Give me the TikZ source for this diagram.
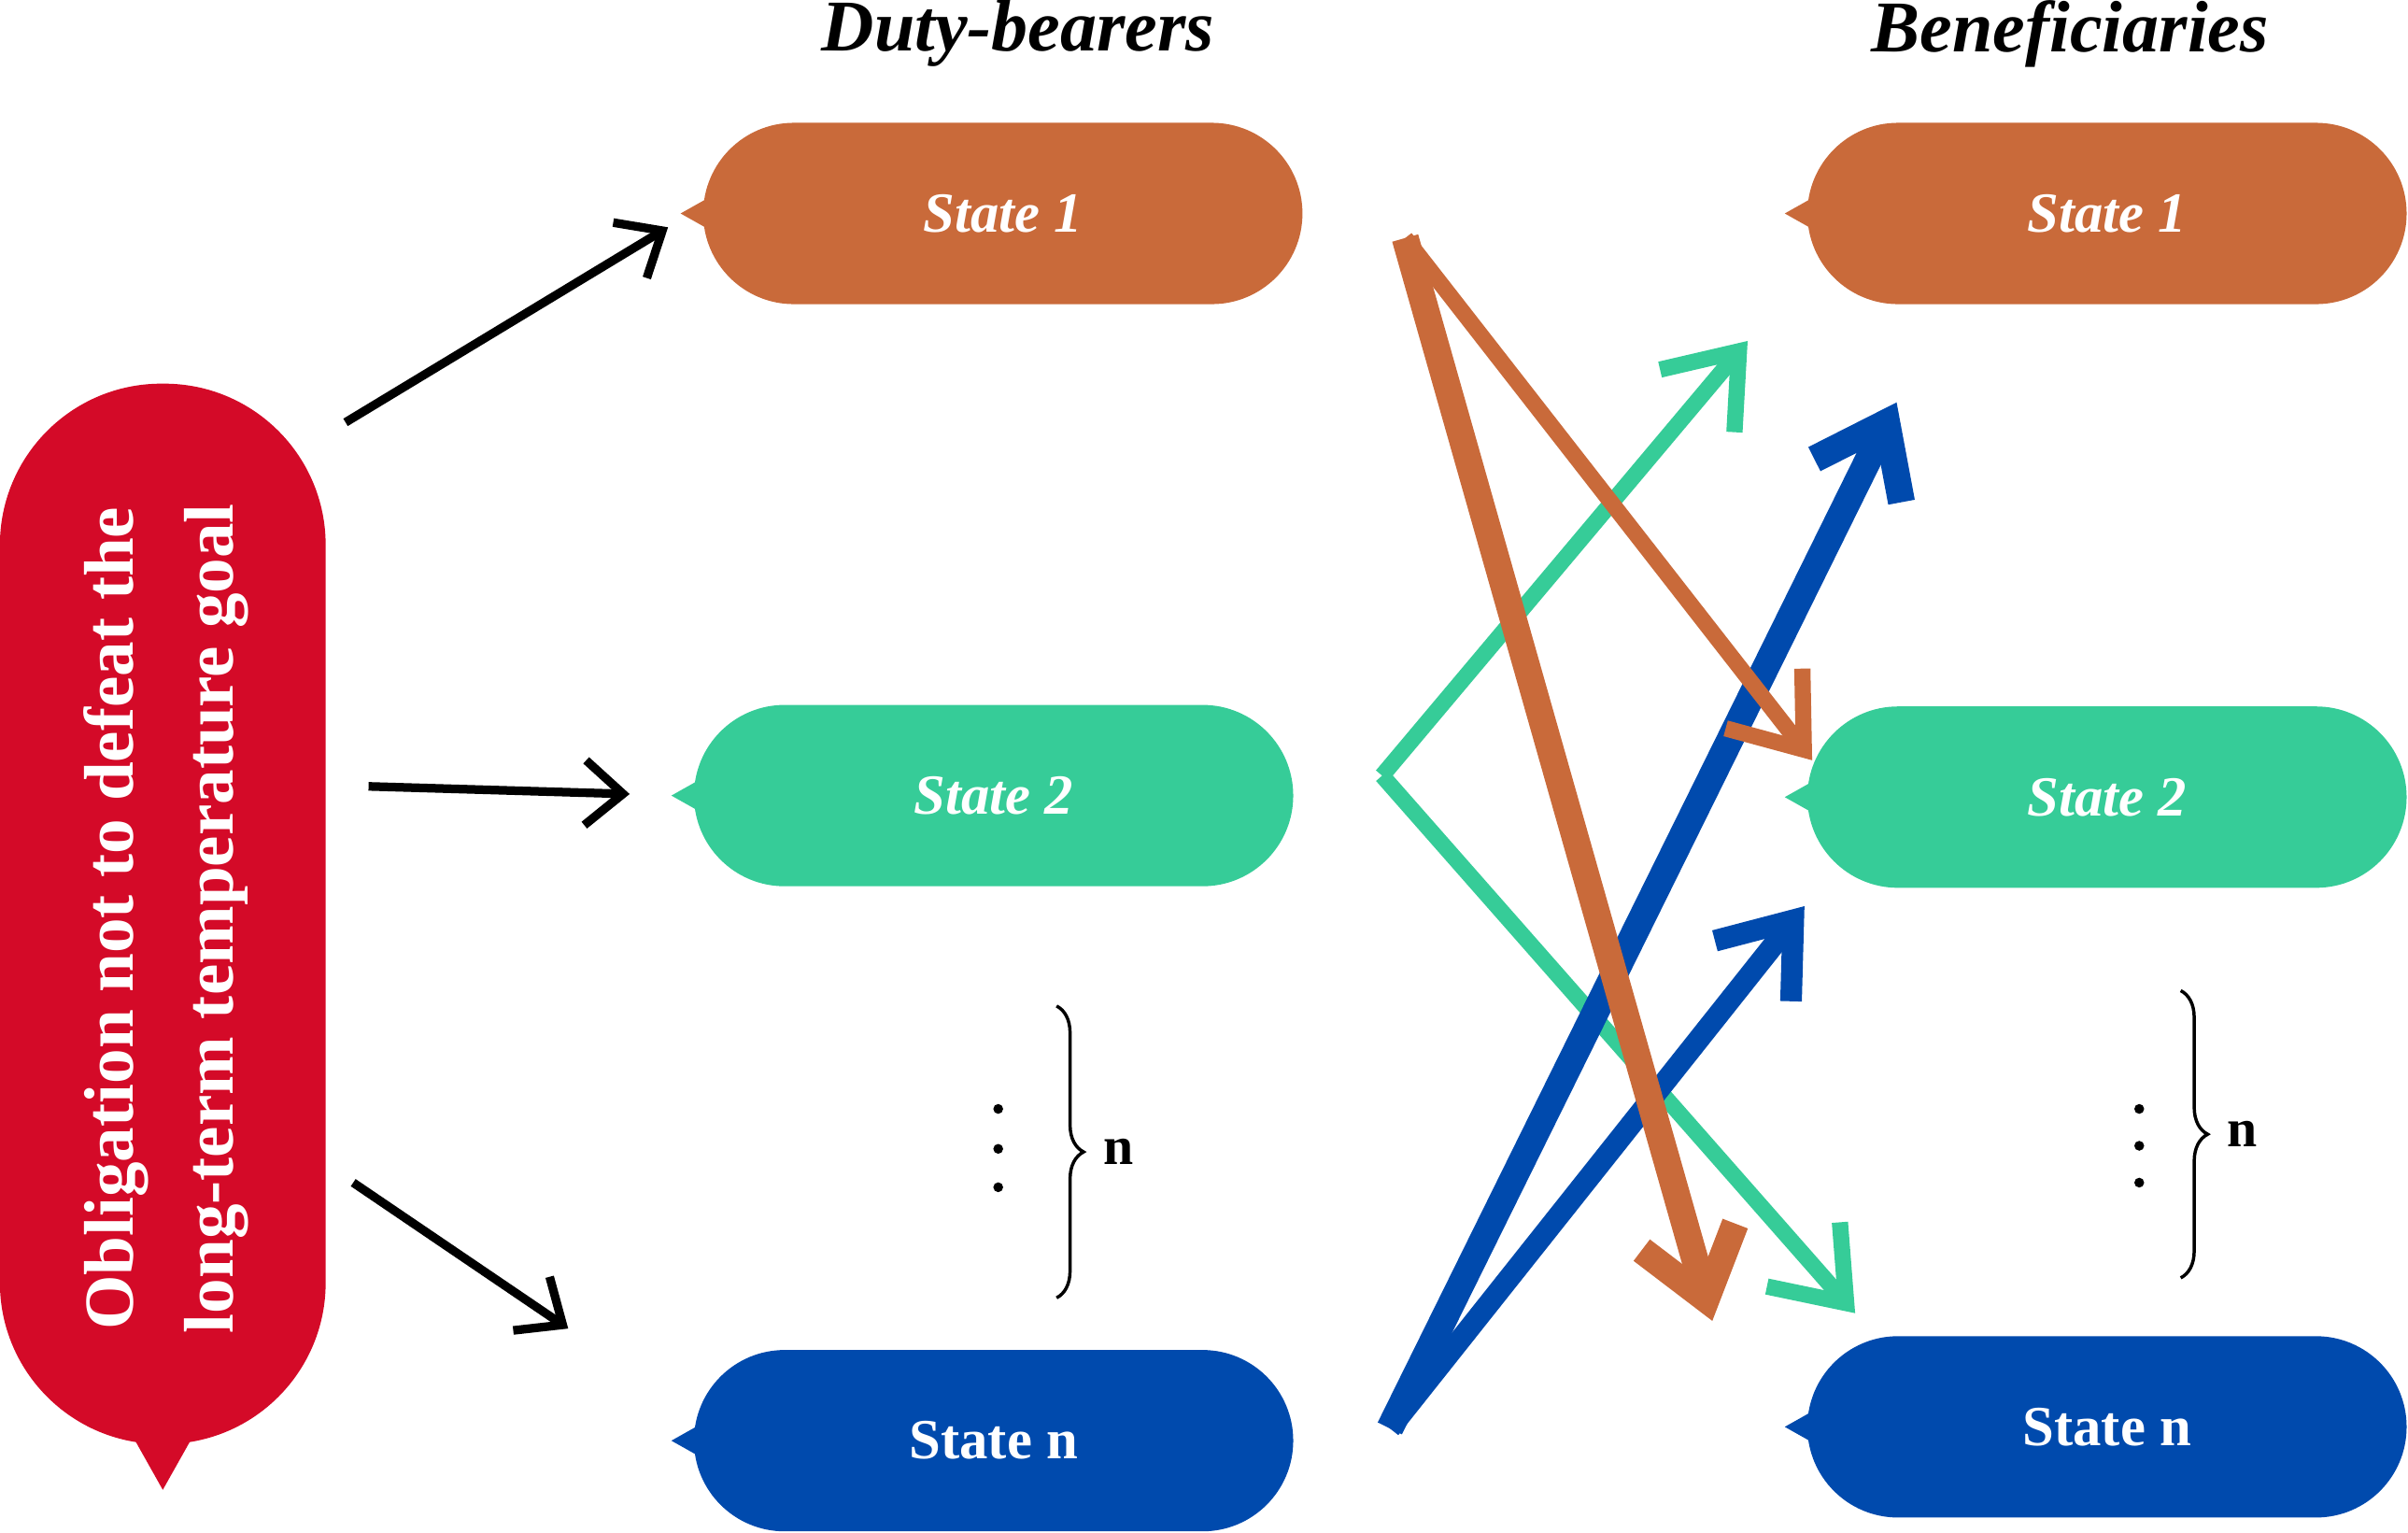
\documentclass[tikz,border=0pt]{standalone}
\usepackage{fontspec}
\setmainfont{Liberation Serif}
\usetikzlibrary{shapes.geometric,decorations.pathreplacing,arrows.meta}
\definecolor{rust}{HTML}{C96A3A}
\definecolor{mint}{HTML}{36CC98}
\definecolor{navy}{HTML}{004AAD}
\definecolor{crimson}{HTML}{D40A28}
\tikzset{
	state/.style={rounded corners=0.59cm, minimum width=3.9cm, minimum height=1.18cm, text=white, font=\bfseries\itshape\fontsize{10.5}{12}\selectfont, inner sep=0pt},
	title/.style={font=\itshape\bfseries\fontsize{13.5}{15}\selectfont},
	blackarr/.style={->, line width=1.6pt, black, >={Straight Barb[length=7pt,width=12pt]}},
	colarr/.style={->, line width=3pt, >={Straight Barb[length=12pt,width=18pt]}},
}
\begin{document}
\begin{tikzpicture}[x=0.01cm,y=-0.01cm]
	\useasboundingbox (0,0) rectangle (1568,998);
	% obligation
	\node[fill=crimson, rounded corners=1.05cm, minimum width=2.12cm, minimum height=6.9cm, inner sep=0pt] (obl) at (106,595) {};
	\fill[crimson] (88,938) -- (106,970) -- (124,938) -- cycle;
	\node[rotate=90, text=white, align=center, font=\bfseries\fontsize{13}{18.5}\selectfont] at (108,598) {Obligation not to defeat the\\long-term temperature goal};
	% titles
	\node[title] (dt) at (663,22) {Duty-bearers};
	\node[title] (bt) at (1348,22) {Beneficiaries};
	% duty-bearers
	\node[state, fill=rust] (d1) at (653,139) {State 1};
	\node[state, fill=mint] (d2) at (647,518) {State 2};
	\node[state, fill=navy, font=\bfseries\fontsize{10.5}{12}\selectfont] (dn) at (647,938) {State n};
	% beneficiaries
	\node[state, fill=rust] (b1) at (1372,139) {State 1};
	\node[state, fill=mint] (b2) at (1372,519) {State 2};
	\node[state, fill=navy, font=\bfseries\fontsize{10.5}{12}\selectfont] (bn) at (1372,929) {State n};
	\foreach \n/\c in {d1/rust,d2/mint,dn/navy,b1/rust,b2/mint,bn/navy}
		\fill[\c] (\n.west) ++(2,-9) -- ++(-16,9) -- ++(16,9) -- cycle;
	% black arrows
	\coordinate (o1) at (225,275);
	\coordinate (o2) at (240,512);
	\coordinate (o3) at (230,770);
	\coordinate (t1) at (435,148);
	\coordinate (t2) at (410,517);
	\coordinate (t3) at (370,865);
	\draw[blackarr] (o1) -- (t1);
	\draw[blackarr] (o2) -- (t2);
	\draw[blackarr] (o3) -- (t3);
	% ellipses and braces
	\foreach \x/\y in {650/722,650/748,650/773,1393/722,1393/746,1393/770}
		\fill (\x,\y) circle (3.2);
	\draw[decorate, decoration={brace, amplitude=5pt}, semithick] (688,655) -- (688,845) node[midway, right=5pt, font=\bfseries\fontsize{10}{12}\selectfont] {n};
	\draw[decorate, decoration={brace, amplitude=5pt}, semithick] (1420,645) -- (1420,832) node[midway, right=5pt, font=\bfseries\fontsize{10}{12}\selectfont] {n};
	% coloured arrows
	\coordinate (s1) at (915,155);
	\coordinate (s2) at (900,505);
	\coordinate (sn) at (905,930);
	\coordinate (e12) at (1180,495);
	\coordinate (e1n) at (1115,860);
	\coordinate (e21) at (1138,222);
	\coordinate (e2n) at (1208,855);
	\coordinate (en1) at (1235,262);
	\coordinate (en2) at (1175,590);
	\draw[colarr, mint] (s2) -- (e21);
	\draw[colarr, mint] (s2) -- (e2n);
	\draw[colarr, navy, line width=5pt] (sn) -- (en1);
	\draw[colarr, navy, line width=4pt] (sn) -- (en2);
	\draw[colarr, rust] (s1) -- (e12);
	\draw[colarr, rust, line width=5pt] (s1) -- (e1n);
\end{tikzpicture}
\end{document}
